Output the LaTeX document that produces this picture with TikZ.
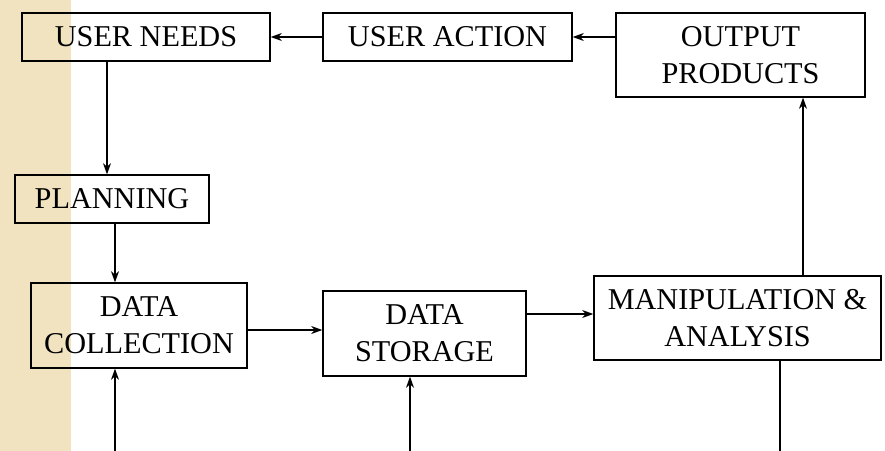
\documentclass[tikz,border=0pt]{standalone}
\usepackage{fontspec}
\setmainfont{Liberation Serif}
\usetikzlibrary{arrows.meta}
\definecolor{stripbeige}{HTML}{F1E3BF}
\tikzset{
  stagebox/.style={draw,line width=0.9pt,align=center,inner sep=0pt,
    font=\fontsize{21.5}{26.3}\selectfont},
  flow/.style={line width=0.9pt,-{Stealth[length=2.8mm,width=2mm,inset=0.9mm]}},
}
\begin{document}
\begin{tikzpicture}[x=0.025cm,y=-0.025cm]
\useasboundingbox (0,0) rectangle (885,451);
% left strip
\fill[stripbeige] (0,0) rectangle (71,451);
% stages
\node[stagebox,minimum width=6.2cm,minimum height=1.2cm] (needs) at (146,37) {USER NEEDS};
\node[stagebox,minimum width=6.225cm,minimum height=1.2cm] (action) at (447.5,37) {USER ACTION};
\node[stagebox,minimum width=6.225cm,minimum height=2.1cm] (output) at (740.5,55) {OUTPUT\\PRODUCTS};
\node[stagebox,minimum width=4.85cm,minimum height=1.2cm] (planning) at (112,199) {PLANNING};
\node[stagebox,minimum width=5.4cm,minimum height=2.125cm] (collection) at (139,325.5) {DATA\\COLLECTION};
\node[stagebox,minimum width=5.075cm,minimum height=2.125cm] (storage) at (424.5,333.5) {DATA\\STORAGE};
\node[stagebox,minimum width=7.175cm,minimum height=2.1cm] (analysis) at (737.5,318) {MANIPULATION \&\\ANALYSIS};
% free ends at the bottom
\coordinate (inA) at (115,451);
\coordinate (inB) at (410,451);
\coordinate (outC) at (780,451);
% connectors
\draw[flow] (action.west) -- (needs.east);
\draw[flow] (action.east -| output.west) -- (action.east);
\draw[flow] (needs.south -| 107,0) -- (planning.north -| 107,0);
\draw[flow] (planning.south -| 115,0) -- (collection.north -| 115,0);
\draw[flow] (collection.east |- 0,330) -- (storage.west |- 0,330);
\draw[flow] (storage.east |- 0,314) -- (analysis.west |- 0,314);
\draw[flow] (analysis.north -| 803,0) -- (output.south -| 803,0);
\draw[flow] (inA) -- (collection.south -| inA);
\draw[flow] (inB) -- (storage.south -| inB);
\draw[line width=2pt] (analysis.south -| outC) -- (outC);
\end{tikzpicture}
\end{document}
